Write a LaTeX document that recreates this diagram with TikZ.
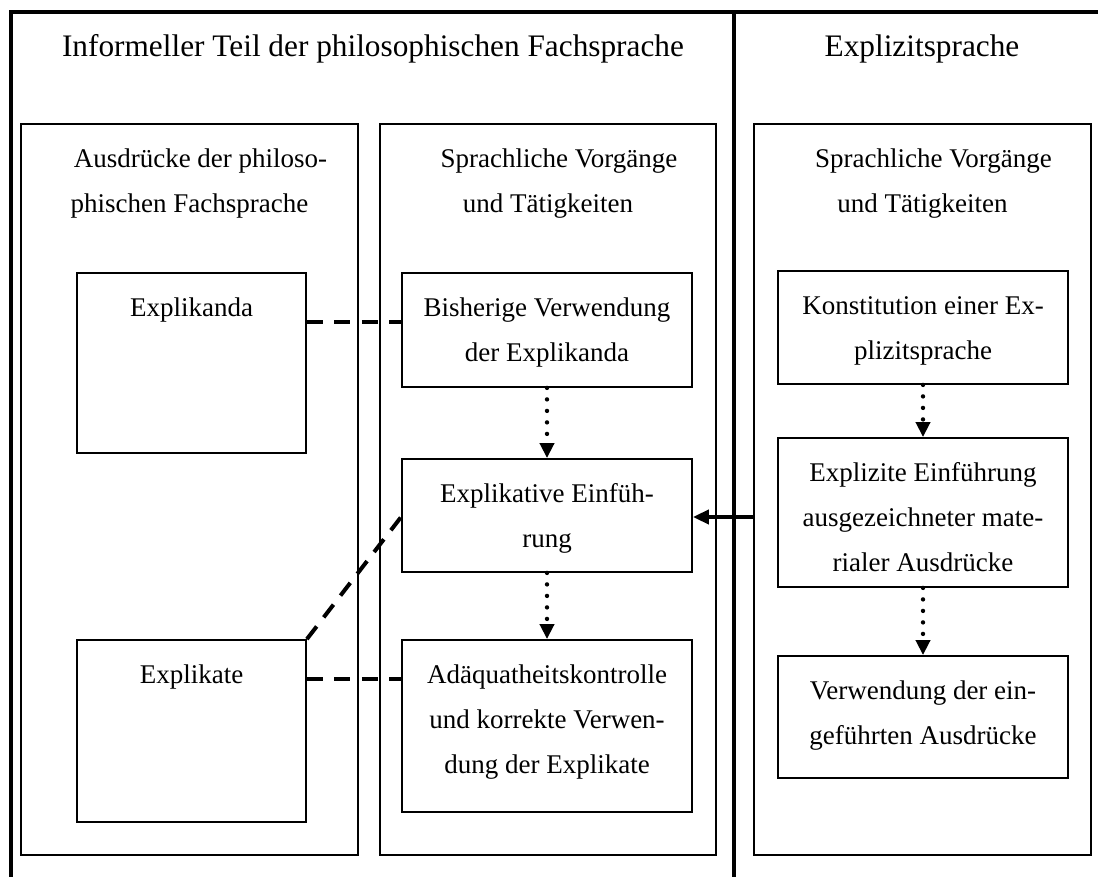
\documentclass[tikz,border=0pt]{standalone}
\usepackage{fontspec}
\setmainfont{Liberation Serif}
\usetikzlibrary{arrows.meta,calc}
\newcommand{\tstrut}{\rule{0pt}{22pt}}
\begin{document}
\begin{tikzpicture}[x=1pt,y=-1pt,
  frame/.style={line width=4pt, line join=miter},
  colbox/.style={draw, line width=1.4pt, inner sep=0pt, minimum width=337pt, minimum height=731pt},
  sbox/.style={draw, line width=1.8pt, inner sep=0pt},
  txt/.style={font=\fontsize{27}{45}\selectfont, align=center, inner sep=0pt, anchor=north},
  ttl/.style={font=\fontsize{31.3}{38}\selectfont, inner sep=0pt, anchor=base},
  dashline/.style={line width=4pt, dash pattern=on 16pt off 11.5pt},
  dotarrow/.style={line width=4.4pt, line cap=round, dash pattern=on 0pt off 11.5pt,
                   -{Triangle[length=15pt,width=14pt]}},
  solidarrow/.style={line width=4pt, -{Triangle[length=16pt,width=14pt]}}]
\useasboundingbox (0,0) rectangle (1098,877);

% outer frame and divider
\coordinate (fbl) at (11,877);
\coordinate (ftl) at (11,12.5);
\coordinate (ftr) at (1098,12.5);
\coordinate (dtop) at (734,10.5);
\coordinate (dbot) at (734,877);
\draw[frame] (fbl) -- (ftl) -- (ftr);
\draw[frame] (dtop) -- (dbot);

% titles
\node[ttl] (titleL) at (373,57) {Informeller Teil der philosophischen Fachsprache};
\node[ttl] (titleR) at (922,57) {Explizitsprache};

% column boxes
\node[colbox] (colL) at (189.5,489.5) {};
\node[colbox, minimum width=336pt] (colM) at (548,489.5) {};
\node[colbox] (colR) at (922.5,489.5) {};
\node[txt] (colLt) at ([yshift=-22pt]colL.north) {\tstrut\hspace*{22pt}Ausdrücke der philoso-\\phischen Fachsprache};
\node[txt] (colMt) at ([yshift=-22pt]colM.north) {\tstrut\hspace*{22pt}Sprachliche Vorgänge\\und Tätigkeiten};
\node[txt] (colRt) at ([yshift=-22pt]colR.north) {\tstrut\hspace*{22pt}Sprachliche Vorgänge\\und Tätigkeiten};

% left column boxes
\node[sbox, minimum width=229pt, minimum height=180pt] (explikanda) at (191.5,363) {};
\node[sbox, minimum width=229pt, minimum height=182pt] (explikate) at (191.5,731) {};
\node[txt] (explikandat) at ([yshift=-22pt]explikanda.north) {\tstrut Explikanda};
\node[txt] (explikatet) at ([yshift=-22pt]explikate.north) {\tstrut Explikate};

% middle column boxes
\node[sbox, minimum width=290pt, minimum height=114pt] (bisherige) at (547,330) {};
\node[sbox, minimum width=290pt, minimum height=113pt] (explikativ) at (547,515.5) {};
\node[sbox, minimum width=290pt, minimum height=172pt] (adaequat) at (547,726) {};
\node[txt] (bisherigt) at ([yshift=-22pt]bisherige.north) {\tstrut Bisherige Verwendung\\der Explikanda};
\node[txt] (explikativt) at ([yshift=-22pt]explikativ.north) {\tstrut Explikative Einfüh-\\rung};
\node[txt] (adaequatt) at ([yshift=-22pt]adaequat.north) {\tstrut Adäquatheitskontrolle\\und korrekte Verwen-\\dung der Explikate};

% right column boxes
\node[sbox, minimum width=290pt, minimum height=113pt] (konst) at (923,327.5) {};
\node[sbox, minimum width=290pt, minimum height=149pt] (explizit) at (923,512.5) {};
\node[sbox, minimum width=290pt, minimum height=122pt] (verwendung) at (923,717) {};
\node[txt] (konstt) at ([yshift=-22pt]konst.north) {\tstrut Konstitution einer Ex-\\plizitsprache};
\node[txt] (explizitt) at ([yshift=-22pt]explizit.north) {\tstrut Explizite Einführung\\ausgezeichneter mate-\\rialer Ausdrücke};
\node[txt] (verwendungt) at ([yshift=-22pt]verwendung.north) {\tstrut Verwendung der ein-\\geführten Ausdrücke};

% dashed connectors
\draw[dashline] ($(explikanda.north east)+(0,50)$) -- ($(bisherige.north west)+(0,50)$);
\draw[dashline] ($(explikate.north east)+(0,40)$) -- ($(adaequat.north west)+(0,40)$);
\draw[dashline] (explikate.north east) -- ($(explikativ.west)+(0,1.5)$);

% dotted arrows
\draw[dotarrow] (bisherige.south) -- (explikativ.north);
\draw[dotarrow] (explikativ.south) -- (adaequat.north);
\draw[dotarrow] (konst.south) -- (explizit.north);
\draw[dotarrow] (explizit.south) -- (verwendung.north);

% solid arrow
\draw[solidarrow] ($(explikativ.east -| colR.west)+(0,1.5)$) -- ($(explikativ.east)+(0,1.5)$);
\end{tikzpicture}
\end{document}
